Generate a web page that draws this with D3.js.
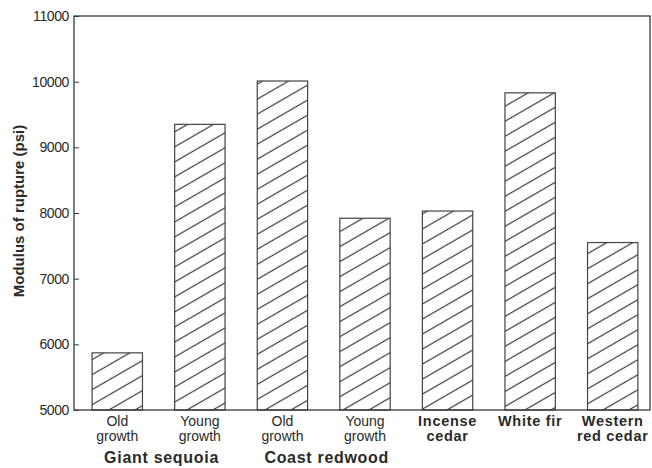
<!DOCTYPE html>
<html>
<head>
<style>
  body { margin: 0; background: #fff; }
  text { font-family: "Liberation Sans", Arial, sans-serif; fill: #2a2a2a; }
</style>
</head>
<body>
<script src="https://d3js.org/d3.v7.min.js"></script>
<script>
    const width = 652
    const height = 468

    // data
    const species = ["gsOld", "gsYoung", "crOld", "crYoung", "incense", "whiteFir", "redCedar"]
    const barLabels = [["Old", "growth"], ["Young", "growth"], ["Old", "growth"], ["Young", "growth"],
                       ["Incense", "cedar"], ["White fir"], ["Western", "red cedar"]]
    const boldLabel = [false, false, false, false, true, true, true]
    const rupture = [5870, 9350, 10010, 7920, 8030, 9830, 7550]
    const groups = [["Giant sequoia", "gsOld", "gsYoung"], ["Coast redwood", "crOld", "crYoung"]]
    const yTicks = [5000, 6000, 7000, 8000, 9000, 10000, 11000]

    const frame = { left: 74, right: 650, top: 16, bottom: 410 }

    const svg = d3.select("body").append("svg").attr("width", width).attr("height", height)

    const x = d3.scaleBand()
        .domain(species)
        .range([76, 654])
        .paddingInner(0.39)
        .paddingOuter(0.195)

    const y = d3.scaleLinear()
        .domain([5000, 11000])
        .range([frame.bottom, frame.top])

    // hatching
    svg.append("defs").append("pattern")
        .attr("id", "hatch")
        .attr("patternUnits", "userSpaceOnUse")
        .attr("width", 10)
        .attr("height", 13)
        .attr("patternTransform", "rotate(-30)")
        .append("line")
        .attr("x1", 0).attr("x2", 10)
        .attr("y1", 6.5).attr("y2", 6.5)
        .attr("stroke", "#3a3a3a")
        .attr("stroke-width", 1.2)

    svg.append("g")
        .selectAll("rect")
        .data(species)
        .enter()
        .append("rect")
        .attr("x", d => x(d))
        .attr("width", x.bandwidth())
        .attr("y", (d, i) => y(rupture[i]))
        .attr("height", (d, i) => y(5000) - y(rupture[i]))
        .attr("fill", "url(#hatch)")
        .attr("stroke", "#444")
        .attr("stroke-width", 1.2)

    // frame
    svg.append("rect")
        .attr("x", frame.left)
        .attr("y", frame.top)
        .attr("width", frame.right - frame.left)
        .attr("height", frame.bottom - frame.top)
        .attr("fill", "none")
        .attr("stroke", "#3a3a3a")
        .attr("stroke-width", 1.3)

    const yAxis = svg.append("g")
        .attr("transform", "translate(" + frame.left + ",0)")
        .call(d3.axisLeft(y).tickValues(yTicks).tickSize(-5).tickPadding(5).tickFormat(d3.format("d")))
    yAxis.select(".domain").remove()
    yAxis.selectAll("line").attr("stroke", "#3a3a3a")
    yAxis.selectAll("text")
        .style("font-family", '"Liberation Sans", Arial, sans-serif')
        .style("font-size", "14px")
        .style("letter-spacing", "-0.4px")
        .attr("fill", "#2a2a2a")

    svg.append("text")
        .attr("transform", "translate(24,211) rotate(-90)")
        .attr("text-anchor", "middle")
        .style("font-size", "15px")
        .style("font-weight", "bold")
        .text("Modulus of rupture (psi)")

    // category labels
    const lab = svg.append("g")
    species.forEach((s, i) => {
        const cx = x(s) + x.bandwidth() / 2
        const t = lab.append("text")
            .attr("text-anchor", "middle")
            .style("font-size", boldLabel[i] ? "14.5px" : "14px")
            .style("font-weight", boldLabel[i] ? "bold" : "normal")
            .style("letter-spacing", boldLabel[i] ? "0.7px" : "0px")
        barLabels[i].forEach((line, j) => {
            t.append("tspan")
                .attr("x", cx)
                .attr("y", 426 + j * 15)
                .text(line)
        })
    })

    groups.forEach(g => {
        const cx = (x(g[1]) + x(g[2]) + x.bandwidth()) / 2
        svg.append("text")
            .attr("x", cx + 3)
            .attr("y", 463)
            .attr("text-anchor", "middle")
            .style("font-size", "16px")
            .style("font-weight", "bold")
            .style("letter-spacing", "0.7px")
            .text(g[0])
    })
</script>
</body>
</html>
